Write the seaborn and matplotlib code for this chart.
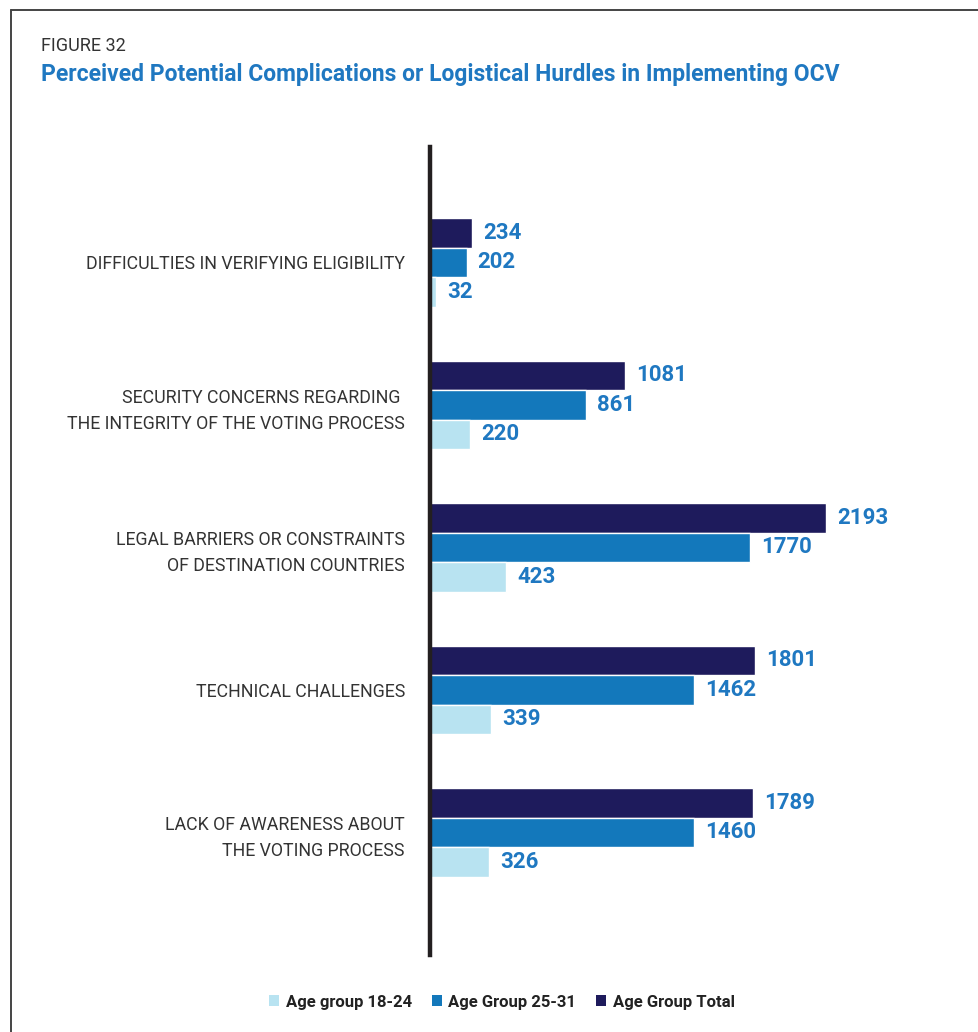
import matplotlib
matplotlib.use("Agg")
import matplotlib.pyplot as plt
from matplotlib.lines import Line2D
from matplotlib.patches import Patch
import seaborn as sns
import pandas as pd

categories = [
    "DIFFICULTIES IN VERIFYING ELIGIBILITY",
    "SECURITY CONCERNS REGARDING \nTHE INTEGRITY OF THE VOTING PROCESS",
    "LEGAL BARRIERS OR CONSTRAINTS\nOF DESTINATION COUNTRIES",
    "TECHNICAL CHALLENGES",
    "LACK OF AWARENESS ABOUT\nTHE VOTING PROCESS",
]
age_18_24 = [32, 220, 423, 339, 326]
age_25_31 = [202, 861, 1770, 1462, 1460]
age_total = [234, 1081, 2193, 1801, 1789]
series_names = ["Age group 18-24", "Age Group 25-31", "Age Group Total"]
series_colors = ["#b8e3f1", "#1378bb", "#1e1b5c"]

rows = []
for name, vals in zip(series_names, [age_18_24, age_25_31, age_total]):
    for cat, v in zip(categories, vals):
        rows.append({"category": cat, "group": name, "value": v})
df = pd.DataFrame(rows)

sns.set_theme(style="white")
plt.rcParams["font.family"] = ["Roboto", "DejaVu Sans"]

fig = plt.figure(figsize=(9.79, 10.32), dpi=100)
ax = fig.add_axes([430 / 979, 1 - 955 / 1032, 506 / 979, (955 - 147) / 1032])

hue_order = ["Age Group Total", "Age Group 25-31", "Age group 18-24"]
palette = dict(zip(series_names, series_colors))
sns.barplot(data=df, y="category", x="value", hue="group", hue_order=hue_order,
            order=categories, palette=palette, orient="h", width=0.62,
            saturation=1, legend=False, ax=ax)

ax.set_xlim(0, 2800)
ax.set_ylim(4.86, -0.81)
ax.set_xlabel("")
ax.set_ylabel("")
ax.set_xticks([])
for s in ["top", "right", "bottom"]:
    ax.spines[s].set_visible(False)
ax.spines["left"].set_linewidth(3.2)
ax.spines["left"].set_color("#231f20")
ax.tick_params(axis="y", length=0, pad=18)
ax.set_yticks(range(len(categories)))
ax.set_yticklabels(categories, fontsize=12.8, color="#333333",
                   ha="right", linespacing=1.55)

for cont in ax.containers:
    ax.bar_label(cont, fmt="%d", padding=8, color="#1f78c1",
                 fontsize=16, fontweight="bold")

# frame edges
fig.add_artist(Line2D([10.5 / 979, 1.0], [1 - 9.5 / 1032] * 2, color="#444444", lw=1.4))
fig.add_artist(Line2D([10.5 / 979] * 2, [0, 1 - 9.5 / 1032], color="#444444", lw=1.4))

fig.text(41 / 979, 1 - 46 / 1032, "FIGURE 32", fontsize=13, color="#333333", va="center")
fig.text(41 / 979, 1 - 74 / 1032,
         "Perceived Potential Complications or Logistical Hurdles in Implementing OCV",
         fontsize=16.5, fontweight="bold", color="#1f78c1", va="center")

handles = [Patch(facecolor=c, edgecolor="none") for c in series_colors]
fig.legend(handles, series_names, loc="center", bbox_to_anchor=(502 / 979, 1 - 1002 / 1032),
           ncol=3, frameon=False, handlelength=0.6, handleheight=0.6, handletextpad=0.4,
           columnspacing=1.2, prop={"weight": "bold", "size": 12})
for t in fig.legends[0].get_texts():
    t.set_color("#222222")

fig.savefig("out.png", dpi=100)
